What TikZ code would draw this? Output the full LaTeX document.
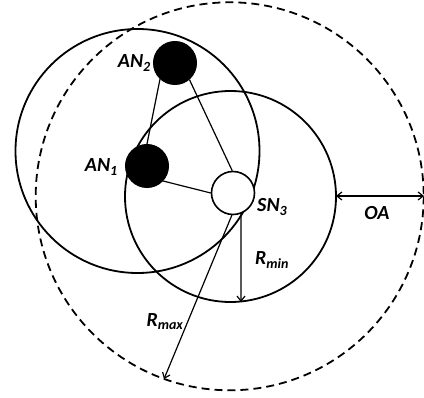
\documentclass[tikz,border=0pt]{standalone}
\usepackage{fontspec}
\setmainfont{Carlito}
\usetikzlibrary{arrows.meta}
\begin{document}
\begin{tikzpicture}[x=1pt,y=-1pt,
  ring/.style={draw=black,line width=1.8pt},
  dashring/.style={draw=black,line width=1.8pt,dash pattern=on 8pt off 5pt},
  anode/.style={circle,draw=black,fill=black,line width=1pt,minimum size=43pt,inner sep=0pt},
  snode/.style={circle,draw=black,fill=white,line width=1.6pt,minimum size=43pt,inner sep=0pt},
  link/.style={draw=black,line width=1.2pt},
  arr/.style={draw=black,line width=1.2pt,-{Straight Barb[length=5pt,width=8pt]}},
  lbl/.style={font=\fontsize{20}{23}\selectfont\bfseries\itshape,inner sep=0pt}]
\useasboundingbox (0,0) rectangle (424,398);
% circles
\draw[dashring] (229.7,196.3) circle (194);
\draw[ring] (137.5,151) circle (122);
\draw[ring] (230.5,196.5) circle (105.5);
% nodes
\node[anode] (an2) at (175,63) {};
\node[anode] (an1) at (147,166) {};
\node[snode] (sn3) at (233,193) {};
% links
\draw[link] (an2.227) -- (an1.90);
\draw[link] (an2.311) -- (sn3.92);
\draw[link] (an1.317) -- (sn3.180);
% arrows
\coordinate (rminend) at (241,302);
\coordinate (rmaxend) at (164,379);
\coordinate (oaleft) at (336,196);
\coordinate (oaright) at (424,196);
\draw[arr] (sn3.291) -- (rminend);
\draw[arr] (sn3.267) -- (rmaxend);
\draw[arr,{Straight Barb[length=5pt,width=8pt]}-{Straight Barb[length=5pt,width=8pt]}] (oaleft) -- (oaright);
% labels
\node[lbl,anchor=east] (l2) at (151,63) {AN\textsubscript{2}};
\node[lbl,anchor=east] (l1) at (118,167) {AN\textsubscript{1}};
\node[lbl,anchor=west] (l3) at (257,207) {SN\textsubscript{3}};
\node[lbl] (loa) at (377,213) {OA};
\node[lbl] (lmin) at (272,260) {R\textsubscript{min}};
\node[lbl] (lmax) at (165,322) {R\textsubscript{max}};
\end{tikzpicture}
\end{document}
